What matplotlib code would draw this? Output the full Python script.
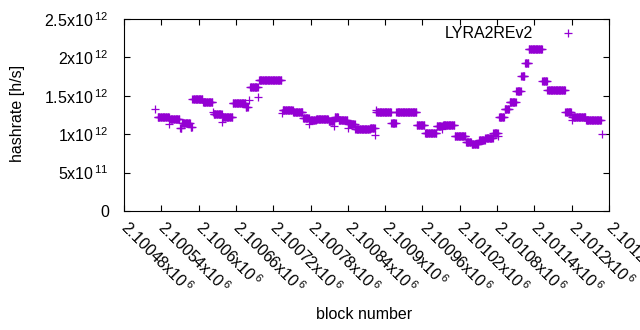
import numpy as np
import matplotlib
matplotlib.use("Agg")
import matplotlib.pyplot as plt

plt.rcParams['font.family'] = ['Liberation Sans', 'DejaVu Sans']
plt.rcParams['mathtext.default'] = 'regular'

# runs of blocks with the same hashrate: first block, last block, value (1e12 h/s)
run_start = [2100530, 2100534, 2100553, 2100554, 2100570, 2100574, 2100587, 2100590,
             2100607, 2100623, 2100624, 2100638, 2100639, 2100655, 2100676, 2100681,
             2100683, 2100696, 2100697, 2100734, 2100735, 2100752, 2100768, 2100778,
             2100779, 2100789, 2100809, 2100818, 2100819, 2100825, 2100840, 2100841,
             2100852, 2100876, 2100884, 2100885, 2100886, 2100910, 2100918, 2100951,
             2100964, 2100976, 2100983, 2100992, 2100993, 2101012, 2101030, 2101039,
             2101051, 2101061, 2101074, 2101082, 2101083, 2101092, 2101100, 2101111,
             2101119, 2101125, 2101131, 2101153, 2101161, 2101190, 2101200, 2101201,
             2101223, 2101248]
run_end = [2100530, 2100552, 2100553, 2100569, 2100572, 2100586, 2100589, 2100606,
           2100622, 2100623, 2100637, 2100638, 2100654, 2100675, 2100679, 2100681,
           2100695, 2100696, 2100733, 2100734, 2100751, 2100767, 2100777, 2100778,
           2100788, 2100808, 2100817, 2100818, 2100824, 2100839, 2100840, 2100851,
           2100875, 2100883, 2100884, 2100885, 2100909, 2100917, 2100950, 2100963,
           2100975, 2100982, 2100991, 2100992, 2101011, 2101029, 2101038, 2101050,
           2101060, 2101073, 2101081, 2101082, 2101091, 2101099, 2101110, 2101118,
           2101124, 2101130, 2101152, 2101160, 2101189, 2101199, 2101200, 2101222,
           2101247, 2101248]
run_value = [1.324, 1.220, 1.129, 1.194, 1.077, 1.142, 1.098, 1.462,
             1.415, 1.289, 1.267, 1.155, 1.228, 1.402, 1.358, 1.445,
             1.611, 1.480, 1.702, 1.272, 1.319, 1.293, 1.207, 1.129,
             1.180, 1.198, 1.172, 1.103, 1.228, 1.181, 1.085, 1.129,
             1.064, 1.077, 0.990, 1.315, 1.283, 1.142, 1.283, 1.116,
             1.022, 1.010, 1.103, 1.064, 1.116, 0.983, 0.894, 0.868,
             0.925, 0.945, 1.020, 0.980, 1.228, 1.332, 1.423, 1.559,
             1.758, 1.927, 2.105, 1.689, 1.572, 1.285, 1.185, 1.220,
             1.181, 1.007]

x_ticks = np.arange(2100480, 2101261, 60)
y_ticks = [0, 0.5e12, 1e12, 1.5e12, 2e12, 2.5e12]
y_labels = ['0', r'5x10$^{\,11}$ ', r'1x10$^{\,12}$ ', r'1.5x10$^{\,12}$ ',
            r'2x10$^{\,12}$ ', r'2.5x10$^{\,12}$ ']

blocks = np.concatenate([np.arange(s, e + 1) for s, e in zip(run_start, run_end)])
rates = np.concatenate([np.full(e - s + 1, v * 1e12) for s, e, v in zip(run_start, run_end, run_value)])

fs = 11.5
purple = '#9400d3'

fig = plt.figure(figsize=(6.4, 3.3), dpi=100)
ax = fig.add_axes([124 / 640, 1 - 211 / 330, 485 / 640, 192 / 330])

ax.plot(blocks, rates, linestyle='none', marker='+', markersize=5.2,
        markeredgewidth=0.9, color=purple)

ax.set_xlim(2100480, 2101260)
ax.set_ylim(0, 2.5e12)
ax.set_xticks(x_ticks)
ax.set_xticklabels([('%.5f' % (t / 1e6)).rstrip('0') + r'x10$^{\,6}$' for t in x_ticks],
                   rotation=-45, ha='left', va='center', rotation_mode='anchor')
ax.set_yticks(y_ticks)
ax.set_yticklabels(y_labels)
ax.tick_params(direction='in', length=4, width=0.8, top=True, right=True,
               labelsize=fs, colors='black')
ax.tick_params(axis='x', pad=9.5)
ax.tick_params(axis='y', pad=10.5)
for sp in ax.spines.values():
    sp.set_linewidth(0.8)

ax.set_xlabel('block number', fontsize=fs)
ax.xaxis.set_label_coords(0.495, -0.50)
ax.set_ylabel('hashrate [h/s]', fontsize=fs)
ax.yaxis.set_label_coords(-0.205, 0.51)

# key, gnuplot style: title right-aligned, sample point to its right
ax.text(0.8433, 0.927, 'LYRA2REv2', transform=ax.transAxes, ha='right',
        va='center', fontsize=fs)
ax.plot([0.9155], [0.927], transform=ax.transAxes, linestyle='none', marker='+',
        markersize=5.2, markeredgewidth=0.9, color=purple, clip_on=False)

fig.savefig('out.png', dpi=100)
